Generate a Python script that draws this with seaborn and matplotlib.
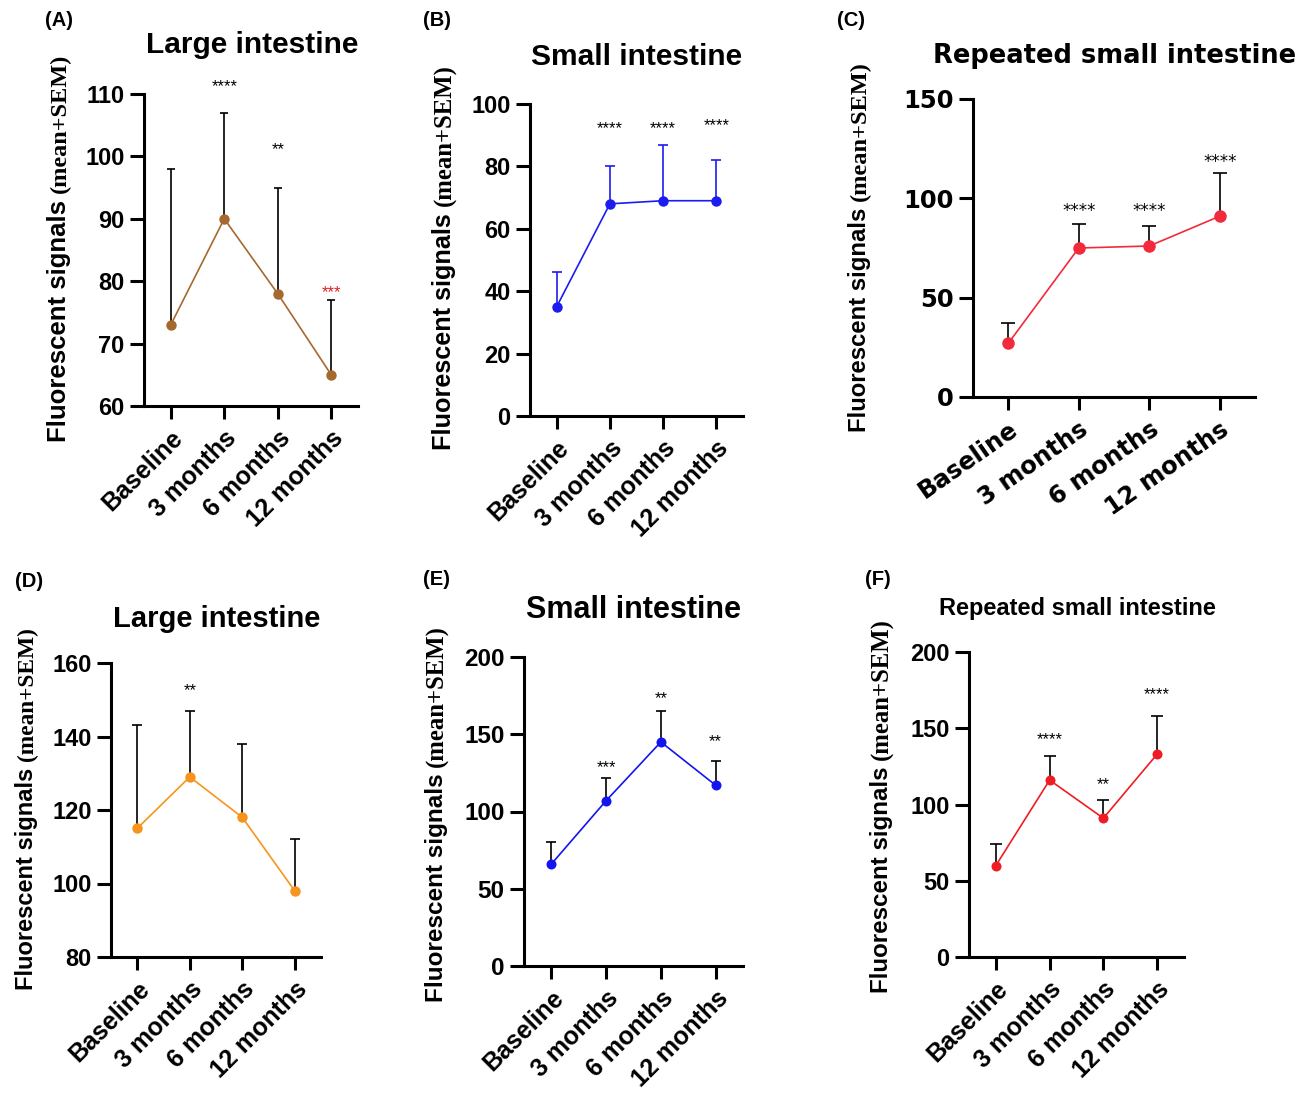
import numpy as np
import pandas as pd
import matplotlib
matplotlib.use("Agg")
import matplotlib.pyplot as plt
import seaborn as sns

W, H = 1307, 1117

sns.set_theme(style="ticks", rc={
    "axes.edgecolor": "black", "xtick.color": "black", "ytick.color": "black",
    "text.color": "black", "axes.labelcolor": "black",
})
plt.rcParams["font.family"] = ["Liberation Sans", "DejaVu Sans"]

timepoints = ["Baseline", "3 months", "6 months", "12 months"]

# (A) large intestine
a_mean = [73, 90, 78, 65]
a_sem = [25, 17, 17, 12]
a_marks = ["", "****", "**", "***"]
a_mark_y = [0, 112, 102, 79]
a_mark_colors = ["black", "black", "black", "#e3201b"]

# (B) small intestine
b_mean = [35, 68, 69, 69]
b_sem = [11, 12, 18, 13]
b_marks = ["", "****", "****", "****"]
b_mark_y = [0, 94, 94, 95]

# (C) repeated small intestine
c_mean = [27, 75, 76, 91]
c_sem = [10, 12, 10, 22]
c_marks = ["", "****", "****", "****"]
c_mark_y = [0, 96.5, 96.5, 121]

# (D) large intestine
d_mean = [115, 129, 118, 98]
d_sem = [28, 18, 20, 14]
d_marks = ["", "**", "", ""]
d_mark_y = [0, 154, 0, 0]

# (E) small intestine
e_mean = [66, 107, 145, 117]
e_sem = [14, 15, 20, 16]
e_marks = ["", "***", "**", "**"]
e_mark_y = [0, 132, 176.5, 148.5]

# (F) repeated small intestine
f_mean = [60, 116, 91, 133]
f_sem = [14, 16, 12, 25]
f_marks = ["", "****", "**", "****"]
f_mark_y = [0, 146.5, 117, 175.5]

SANS = "Liberation Sans"
SERIF = "Liberation Serif"
WIDE = "DejaVu Sans"

panels = [
    dict(letter="(A)", title="Large intestine", mean=a_mean, sem=a_sem,
         marks=a_marks, mark_y=a_mark_y, mark_colors=a_mark_colors,
         box=(144, 94, 358, 406), ylim=(60, 110), yticks=[60, 70, 80, 90, 100, 110],
         color="#a5692f", ecolor="black", cap=3.2, ms=7.5,
         title_xy=(252, 53), title_size=21.5, title_font=SANS,
         letter_xy=(45, 26), ylab_xy=(66, 442), ylab_sizes=(18.5, 17.5),
         tick_font=SANS, ytick_size=17, xtick_size=18, xrot=45),
    dict(letter="(B)", title="Small intestine", mean=b_mean, sem=b_sem,
         marks=b_marks, mark_y=b_mark_y, mark_colors=None,
         box=(530, 104, 743, 416), ylim=(0, 100), yticks=[0, 20, 40, 60, 80, 100],
         color="#1c1cf0", ecolor="#1c1cf0", cap=3.6, ms=7.5,
         title_xy=(637, 65), title_size=21.5, title_font=SANS,
         letter_xy=(423, 26), ylab_xy=(451, 450), ylab_sizes=(18.2, 17.8),
         tick_font=SANS, ytick_size=17, xtick_size=18, xrot=45),
    dict(letter="(C)", title="Repeated small intestine", mean=c_mean, sem=c_sem,
         marks=c_marks, mark_y=c_mark_y, mark_colors=None,
         box=(973, 99, 1255, 397), ylim=(0, 150), yticks=[0, 50, 100, 150],
         color="#f22a3c", ecolor="black", cap=4.7, ms=9.0,
         title_xy=(1115, 63), title_size=18.5, title_font=WIDE,
         letter_xy=(837, 26), ylab_xy=(866, 432), ylab_sizes=(17.2, 17.6),
         tick_font=WIDE, ytick_size=17.5, xtick_size=17.5, xrot=35),
    dict(letter="(D)", title="Large intestine", mean=d_mean, sem=d_sem,
         marks=d_marks, mark_y=d_mark_y, mark_colors=None,
         box=(111, 663, 321, 957), ylim=(80, 160), yticks=[80, 100, 120, 140, 160],
         color="#f7941d", ecolor="black", cap=3.6, ms=7.5,
         title_xy=(217, 627), title_size=21, title_font=SANS,
         letter_xy=(15, 587), ylab_xy=(33, 990), ylab_sizes=(17.0, 16.8),
         tick_font=SANS, ytick_size=17, xtick_size=18, xrot=45),
    dict(letter="(E)", title="Small intestine", mean=e_mean, sem=e_sem,
         marks=e_marks, mark_y=e_mark_y, mark_colors=None,
         box=(524, 657, 743, 966), ylim=(0, 200), yticks=[0, 50, 100, 150, 200],
         color="#1414f0", ecolor="black", cap=3.4, ms=7.2,
         title_xy=(634, 618), title_size=22, title_font=SANS,
         letter_xy=(423, 585), ylab_xy=(443, 1002), ylab_sizes=(17.5, 17.8),
         tick_font=SANS, ytick_size=17.5, xtick_size=18, xrot=45),
    dict(letter="(F)", title="Repeated small intestine", mean=f_mean, sem=f_sem,
         marks=f_marks, mark_y=f_mark_y, mark_colors=None,
         box=(969, 652, 1184, 957), ylim=(0, 200), yticks=[0, 50, 100, 150, 200],
         color="#ee1c24", ecolor="black", cap=4.2, ms=7.2,
         title_xy=(1077, 615), title_size=17, title_font=SANS,
         letter_xy=(865, 585), ylab_xy=(888, 993), ylab_sizes=(17.4, 17.8),
         tick_font=SANS, ytick_size=17, xtick_size=18, xrot=45),
]

fig = plt.figure(figsize=(W / 100, H / 100), dpi=100)
renderer = fig.canvas.get_renderer()


def fx(x):
    return x / W


def fy(y):
    return 1 - y / H


for p in panels:
    left, top, right, bottom = p["box"]
    ax = fig.add_axes([fx(left), fy(bottom), (right - left) / W, (bottom - top) / H])

    df = pd.DataFrame({"time": timepoints, "signal": p["mean"]})
    sns.pointplot(data=df, x="time", y="signal", order=timepoints, color=p["color"],
                  errorbar=None, markers="o", linestyles="-", linewidth=1.2,
                  markersize=p["ms"], markeredgewidth=0, ax=ax)
    for line in ax.lines:
        line.set_zorder(3)

    # upper-only SEM bars (mean + SEM)
    pos = np.arange(len(timepoints))
    mean = np.asarray(p["mean"], dtype=float)
    _, caplines, _ = ax.errorbar(pos, mean, yerr=[np.zeros(len(pos)), p["sem"]],
                                 fmt="none", ecolor=p["ecolor"], elinewidth=1.2,
                                 capsize=p["cap"], capthick=1.2, zorder=2)
    for cl in caplines:
        if np.allclose(cl.get_ydata(), mean):
            cl.set_visible(False)

    ax.set_xlim(-0.5, 3.5)
    ax.set_ylim(*p["ylim"])
    ax.set_xlabel("")
    ax.set_ylabel("")
    sns.despine(ax=ax)
    for side in ("left", "bottom"):
        ax.spines[side].set_linewidth(2.2)
        ax.spines[side].set_color("black")

    ax.set_yticks(p["yticks"])
    ax.set_yticklabels([str(t) for t in p["yticks"]], fontsize=p["ytick_size"],
                       fontweight="bold", family=p["tick_font"])
    ax.set_xticks(pos)
    ax.set_xticklabels(timepoints, fontsize=p["xtick_size"], fontweight="bold",
                       family=p["tick_font"], rotation=p["xrot"], ha="right",
                       va="top", rotation_mode="anchor")
    ax.tick_params(axis="y", length=10, width=2.2, pad=4, direction="out")
    ax.tick_params(axis="x", length=9.5, width=2.2, pad=5, direction="out")

    # significance asterisks
    mark_colors = p["mark_colors"] or ["black"] * len(pos)
    for i, (m, my) in enumerate(zip(p["marks"], p["mark_y"])):
        if m:
            ax.annotate(m, xy=(i, my), xytext=(0, -4), textcoords="offset points",
                        ha="center", va="center", fontsize=12, color=mark_colors[i],
                        family=p["tick_font"], annotation_clip=False)

    # titles and panel letters
    fig.text(fx(p["title_xy"][0]), fy(p["title_xy"][1]), p["title"], ha="center",
             va="baseline", fontsize=p["title_size"], fontweight="bold",
             family=p["title_font"])
    fig.text(fx(p["letter_xy"][0]), fy(p["letter_xy"][1]), p["letter"], ha="left",
             va="baseline", fontsize=14.5, fontweight="bold", family=SANS)

    # y-axis label in two typefaces
    lx, ly = p["ylab_xy"]
    t1 = fig.text(fx(lx), fy(ly), "Fluorescent signals", rotation=90,
                  rotation_mode="anchor", ha="left", va="baseline",
                  fontsize=p["ylab_sizes"][0], fontweight="bold", family=SANS)
    bb = t1.get_window_extent(renderer)
    gap = 0.28 * p["ylab_sizes"][0] * 100 / 72
    fig.text(fx(lx), (bb.y1 + gap) / H, "(mean+SEM)", rotation=90,
             rotation_mode="anchor", ha="left", va="baseline",
             fontsize=p["ylab_sizes"][1], fontweight="bold", family=SERIF)

fig.savefig("out.png", dpi=100)
